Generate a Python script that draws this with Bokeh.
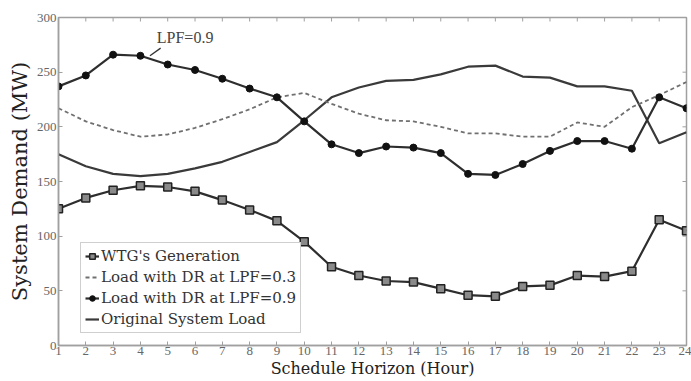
import math
from bokeh.plotting import figure
from bokeh.models import Range1d, FixedTicker, Legend, LegendItem, Label
from bokeh.embed import file_html
from bokeh.resources import INLINE

hours = list(range(1, 25))
wtg = [125, 135, 142, 146, 145, 141, 133, 124, 114, 95, 72, 64, 59, 58, 52, 46, 45, 54, 55, 64, 63, 68, 115, 105]
lpf03 = [217, 205, 197, 191, 193, 199, 207, 216, 227, 231, 221, 212, 206, 205, 200, 194, 194, 191, 191, 204, 200, 218, 229, 241]
lpf09 = [237, 247, 266, 265, 257, 252, 244, 235, 227, 205, 184, 176, 182, 181, 176, 157, 156, 166, 178, 187, 187, 180, 227, 217]
original = [175, 164, 157, 155, 157, 162, 168, 177, 186, 206, 227, 236, 242, 243, 248, 255, 256, 246, 245, 237, 237, 233, 185, 195]
y_ticks = [0, 50, 100, 150, 200, 250, 300]

FONT = "Liberation Serif"
WIDE = "DejaVu Serif"
DARK = "#2e2e2e"
GRAY = "#a0a0a0"

p = figure(width=691, height=381, output_backend="svg", toolbar_location=None,
           x_range=Range1d(1, 24), y_range=Range1d(0, 300),
           min_border_left=58, min_border_right=5, min_border_top=17, min_border_bottom=36)
p.background_fill_color = "white"
p.border_fill_color = "white"
p.grid.visible = False
p.outline_line_color = GRAY
p.outline_line_width = 1.5

for ax in (p.xaxis[0], p.yaxis[0]):
    ax.axis_line_color = GRAY
    ax.axis_line_width = 1.5
    ax.major_tick_in = 4
    ax.major_tick_out = 0
    ax.major_tick_line_color = GRAY
    ax.minor_tick_line_color = None
    ax.major_label_text_font = FONT
    ax.major_label_text_color = "#666666"
    ax.major_label_text_font_size = "13px"
    ax.axis_label_text_font = WIDE
    ax.axis_label_text_font_style = "normal"
    ax.axis_label_text_color = "#222222"

p.xaxis[0].ticker = FixedTicker(ticks=hours)
p.yaxis[0].ticker = FixedTicker(ticks=y_ticks)
p.xaxis[0].axis_label = "Schedule Horizon (Hour)"
p.yaxis[0].axis_label = "System Demand (MW)"
p.xaxis[0].axis_label_text_font_size = "16px"
p.yaxis[0].axis_label_text_font_size = "21px"
p.xaxis[0].major_label_standoff = 1
p.xaxis[0].axis_label_standoff = 1
p.yaxis[0].major_label_standoff = 2
p.yaxis[0].axis_label_standoff = 2

# inward ticks on the top and right frame edges
p.scatter(hours, [y_ticks[-1]] * len(hours), marker="dash", angle=math.pi / 2, size=8,
          line_color=GRAY, line_width=1)
p.scatter([hours[-1]] * len(y_ticks), y_ticks, marker="dash", size=8,
          line_color=GRAY, line_width=1)

r_orig = p.line(hours, original, line_color="#3a3a3a", line_width=2.2)
r_03 = p.line(hours, lpf03, line_color="#707070", line_width=1.8, line_dash="4 3")
r_09l = p.line(hours, lpf09, line_color=DARK, line_width=2.2)
r_09m = p.scatter(hours, lpf09, marker="circle", size=7, fill_color="#111111", line_color="#111111")
r_wl = p.line(hours, wtg, line_color=DARK, line_width=2.2)
r_wm = p.scatter(hours, wtg, marker="square", size=8, fill_color="#8a8a8a", line_color="#222222", line_width=1.5)

legend = Legend(items=[
    LegendItem(label="WTG's Generation", renderers=[r_wl, r_wm]),
    LegendItem(label="Load with DR at LPF=0.3", renderers=[r_03]),
    LegendItem(label="Load with DR at LPF=0.9", renderers=[r_09l, r_09m]),
    LegendItem(label="Original System Load", renderers=[r_orig]),
], location=(22, 12))
legend.label_text_font = WIDE
legend.label_text_font_size = "15px"
legend.label_text_color = "#333333"
legend.glyph_width = 14
legend.glyph_height = 16
legend.label_standoff = 2
legend.spacing = 3
legend.padding = 4
legend.margin = 0
legend.label_height = 18
legend.border_line_color = GRAY
legend.border_line_width = 1.2
legend.background_fill_alpha = 1
p.add_layout(legend, "center")

p.segment(x0=[4.35], y0=[265], x1=[4.74], y1=[272], line_color="#333333", line_width=1.3)
p.add_layout(Label(x=4.6, y=274, text="LPF=0.9", text_font=FONT, text_font_size="16px",
                   text_color="#444444"))

open("out.html", "w").write(file_html(p, INLINE))
